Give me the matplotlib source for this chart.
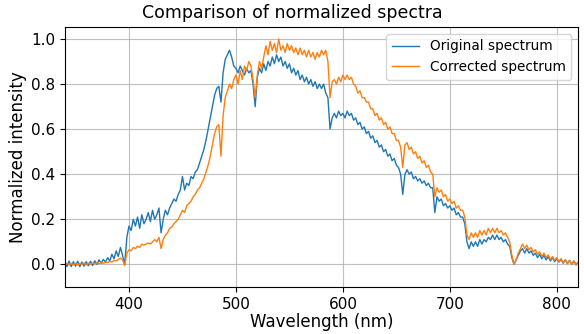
#!/usr/bin/env python3
"""
Comparison of an original and a corrected (normalized) spectrum
"""

import numpy as np
import matplotlib
matplotlib.use("Agg")
import matplotlib.pyplot as plt

# sampling grid of the spectrometer (nm), 2 nm steps
wavelength = np.arange(340, 821, 2)

# normalized intensity of the original spectrum
original = [
    0.010, -0.010, 0.015, -0.010, 0.012, -0.008, 0.014, -0.010, 0.010, -0.008,   # 340
    0.012, -0.006, 0.014, -0.005, 0.016, 0.000, 0.020, 0.005, 0.022, 0.010,      # 360
    0.030, 0.015, 0.045, 0.025, 0.060, 0.035, 0.075, 0.040, 0.000, 0.120,        # 380
    0.170, 0.150, 0.200, 0.170, 0.210, 0.160, 0.220, 0.180, 0.200, 0.230,        # 400
    0.190, 0.240, 0.200, 0.220, 0.250, 0.140, 0.200, 0.240, 0.220, 0.250,        # 420
    0.270, 0.290, 0.280, 0.310, 0.330, 0.390, 0.330, 0.360, 0.350, 0.390,        # 440
    0.380, 0.410, 0.420, 0.450, 0.480, 0.510, 0.550, 0.600, 0.650, 0.700,        # 460
    0.750, 0.780, 0.790, 0.720, 0.850, 0.910, 0.930, 0.950, 0.920, 0.880,        # 480
    0.870, 0.850, 0.880, 0.860, 0.840, 0.870, 0.850, 0.860, 0.800, 0.700,        # 500
    0.830, 0.870, 0.850, 0.890, 0.860, 0.900, 0.880, 0.920, 0.890, 0.930,        # 520
    0.900, 0.920, 0.880, 0.900, 0.870, 0.890, 0.850, 0.870, 0.840, 0.860,        # 540
    0.820, 0.840, 0.810, 0.830, 0.800, 0.820, 0.790, 0.810, 0.780, 0.800,        # 560
    0.780, 0.800, 0.760, 0.740, 0.600, 0.650, 0.670, 0.650, 0.680, 0.660,        # 580
    0.670, 0.650, 0.680, 0.660, 0.670, 0.640, 0.650, 0.620, 0.630, 0.600,        # 600
    0.610, 0.580, 0.590, 0.560, 0.570, 0.540, 0.550, 0.520, 0.530, 0.500,        # 620
    0.510, 0.480, 0.490, 0.460, 0.470, 0.440, 0.430, 0.400, 0.310, 0.400,        # 640
    0.420, 0.400, 0.410, 0.380, 0.390, 0.370, 0.380, 0.360, 0.370, 0.350,        # 660
    0.360, 0.340, 0.340, 0.230, 0.300, 0.280, 0.290, 0.260, 0.270, 0.250,        # 680
    0.260, 0.240, 0.250, 0.220, 0.230, 0.210, 0.210, 0.180, 0.100, 0.070,        # 700
    0.100, 0.080, 0.100, 0.080, 0.110, 0.090, 0.110, 0.100, 0.120, 0.110,        # 720
    0.130, 0.110, 0.130, 0.110, 0.120, 0.100, 0.110, 0.090, 0.080, 0.030,        # 740
    0.000, 0.020, 0.040, 0.060, 0.070, 0.050, 0.070, 0.050, 0.060, 0.040,        # 760
    0.050, 0.030, 0.045, 0.025, 0.040, 0.020, 0.035, 0.015, 0.030, 0.012,        # 780
    0.025, 0.010, 0.022, 0.005, 0.020, 0.003, 0.018, 0.000, 0.015, -0.002,       # 800
    0.010,                                                                       # 820
]

# normalized intensity of the corrected spectrum
corrected = [
    0.000, 0.005, -0.003, 0.004, -0.002, 0.005, -0.003, 0.004, 0.000, 0.006,     # 340
    -0.002, 0.005, 0.000, 0.006, 0.002, 0.007, 0.003, 0.008, 0.005, 0.010,      # 360
    0.008, 0.014, 0.010, 0.018, 0.015, 0.022, 0.028, 0.020, -0.005, 0.050,       # 380
    0.065, 0.060, 0.075, 0.070, 0.080, 0.075, 0.090, 0.085, 0.090, 0.095,        # 400
    0.090, 0.100, 0.110, 0.100, 0.120, 0.070, 0.110, 0.130, 0.140, 0.160,        # 420
    0.165, 0.180, 0.190, 0.200, 0.220, 0.240, 0.230, 0.260, 0.270, 0.280,        # 440
    0.300, 0.310, 0.330, 0.340, 0.360, 0.380, 0.410, 0.440, 0.480, 0.530,        # 460
    0.580, 0.610, 0.620, 0.480, 0.660, 0.740, 0.770, 0.800, 0.780, 0.820,        # 480
    0.840, 0.800, 0.860, 0.820, 0.880, 0.860, 0.900, 0.880, 0.820, 0.740,        # 500
    0.840, 0.900, 0.870, 0.920, 0.970, 0.930, 0.990, 0.950, 0.980, 0.940,        # 520
    1.000, 0.950, 0.970, 0.940, 0.980, 0.950, 0.970, 0.940, 0.960, 0.930,        # 540
    0.960, 0.930, 0.950, 0.920, 0.950, 0.920, 0.940, 0.910, 0.940, 0.920,        # 560
    0.950, 0.930, 0.950, 0.900, 0.740, 0.810, 0.820, 0.800, 0.830, 0.810,        # 580
    0.840, 0.820, 0.840, 0.820, 0.830, 0.800, 0.790, 0.760, 0.770, 0.740,        # 600
    0.740, 0.720, 0.720, 0.690, 0.690, 0.660, 0.670, 0.640, 0.650, 0.620,        # 620
    0.630, 0.600, 0.610, 0.580, 0.580, 0.550, 0.550, 0.520, 0.430, 0.530,        # 640
    0.540, 0.510, 0.520, 0.490, 0.500, 0.470, 0.480, 0.450, 0.460, 0.430,        # 660
    0.440, 0.410, 0.400, 0.300, 0.340, 0.320, 0.330, 0.300, 0.310, 0.280,        # 680
    0.290, 0.270, 0.280, 0.250, 0.260, 0.240, 0.240, 0.210, 0.130, 0.110,        # 700
    0.140, 0.120, 0.140, 0.120, 0.150, 0.130, 0.150, 0.130, 0.160, 0.140,        # 720
    0.160, 0.140, 0.160, 0.140, 0.150, 0.130, 0.140, 0.120, 0.100, 0.040,        # 740
    0.000, 0.020, 0.050, 0.070, 0.090, 0.070, 0.085, 0.065, 0.075, 0.055,        # 760
    0.065, 0.045, 0.055, 0.035, 0.050, 0.030, 0.042, 0.022, 0.035, 0.018,        # 780
    0.030, 0.012, 0.025, 0.008, 0.020, 0.005, 0.018, 0.000, 0.015, -0.003,       # 800
    0.008,                                                                       # 820
]


def main():
    fig = plt.figure(figsize=(5.84, 3.34), dpi=100)
    ax = fig.add_axes([0.111, 0.141, 0.879, 0.778])

    ax.plot(wavelength, original, color="#1f77b4", linewidth=1.0, label="Original spectrum")
    ax.plot(wavelength, corrected, color="#ff7f0e", linewidth=1.0, label="Corrected spectrum")

    ax.set_xlim(340, 820)
    ax.set_ylim(-0.10, 1.053)
    ax.set_xticks([400, 500, 600, 700, 800])
    ax.set_yticks([0.0, 0.2, 0.4, 0.6, 0.8, 1.0])
    ax.tick_params(labelsize=11)

    ax.set_xlabel("Wavelength (nm)", fontsize=12, labelpad=1)
    ax.set_ylabel("Normalized intensity", fontsize=12, labelpad=3)
    # title sits at the centre of the figure, not of the axes
    fig.text(0.5, 0.935, "Comparison of normalized spectra", fontsize=12.5,
             ha="center", va="bottom")
    ax.legend(loc="upper right", fontsize=9.8)
    ax.grid(True, color="#b0b0b0", linewidth=0.8, alpha=0.8)

    fig.savefig("out.png", dpi=100)


if __name__ == "__main__":
    main()
